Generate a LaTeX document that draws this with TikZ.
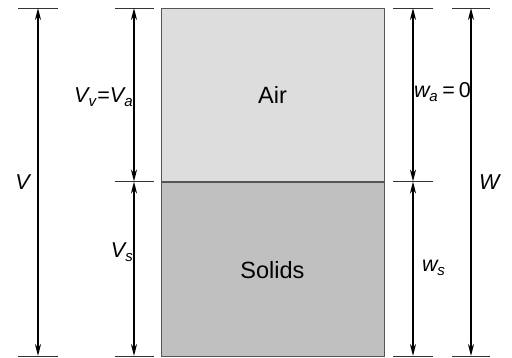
\documentclass[tikz,border=0pt]{standalone}
\usepackage{fontspec}
\setmainfont{Liberation Sans}
\usetikzlibrary{arrows.meta, positioning}
\definecolor{airgray}{HTML}{DDDDDD}
\definecolor{solidgray}{HTML}{C0C0C0}
\definecolor{edgegray}{HTML}{555555}
\newcommand{\phq}[2]{\textit{#1}\kern-1.5pt\textsubscript{\textit{#2}}}

\begin{document}
\begin{tikzpicture}[x=1pt, y=-1pt, >={Stealth[length=12pt,width=6pt]},
  phase/.style={draw=edgegray, line width=0.9pt, minimum width=223pt, inner sep=0pt, font=\fontsize{23.5}{27}\selectfont},
  tick/.style={line width=0.8pt, draw=black!80},
  dim/.style={<->, line width=1.8pt},
  lab/.style={inner sep=0pt, font=\fontsize{21.5}{25}\selectfont}]
  \useasboundingbox (0,0) rectangle (512,358);
  % phase diagram
  \node[phase, fill=airgray, minimum height=173.5pt] (air) at (272.5,95) {Air};
  \node[phase, fill=solidgray, minimum height=174pt, below=0pt of air] (solids) {Solids};
  % extension lines
  \foreach \y in {8,181.5,356} {
    \draw[tick] (115,\y) -- (154,\y);
    \draw[tick] (393,\y) -- (433,\y);
  }
  \foreach \y in {8,356} {
    \draw[tick] (18,\y) -- (58,\y);
    \draw[tick] (452,\y) -- (490,\y);
  }
  % dimension points
  \coordinate (vtop) at (38,8);    \coordinate (vbot) at (38,356);
  \coordinate (vvtop) at (134,8);  \coordinate (vvbot) at (134,181.5);
  \coordinate (vstop) at (134,181.5); \coordinate (vsbot) at (134,356);
  \coordinate (watop) at (413,8);    \coordinate (wabot) at (413,181.5);
  \coordinate (wstop) at (413,181.5); \coordinate (wsbot) at (413,356);
  \coordinate (wtop) at (471,8);     \coordinate (wbot) at (471,356);
  % arrows
  \draw[dim] (vtop) -- (vbot);
  \draw[dim] (vvtop) -- (vvbot);
  \draw[dim] (vstop) -- (vsbot);
  \draw[dim] (watop) -- (wabot);
  \draw[dim] (wstop) -- (wsbot);
  \draw[dim] (wtop) -- (wbot);
  % labels
  \node[lab, anchor=base] (vlab) at (23.5,190) {\textit{V}};
  \node[lab, anchor=base east] (vvlab) at (133.5,103) {\phq{V}{v}=\phq{V}{a}};
  \node[lab, anchor=base east] (vslab) at (133.5,258) {\phq{V}{s}};
  \node[lab, anchor=base west] (walab) at (414,98) {\phq{w}{a}\kern4pt=\kern4pt0};
  \node[lab, anchor=base west] (wslab) at (422,272) {\phq{w}{s}};
  \node[lab, anchor=base west] (wlab) at (479,190) {\textit{W}};
\end{tikzpicture}
\end{document}
